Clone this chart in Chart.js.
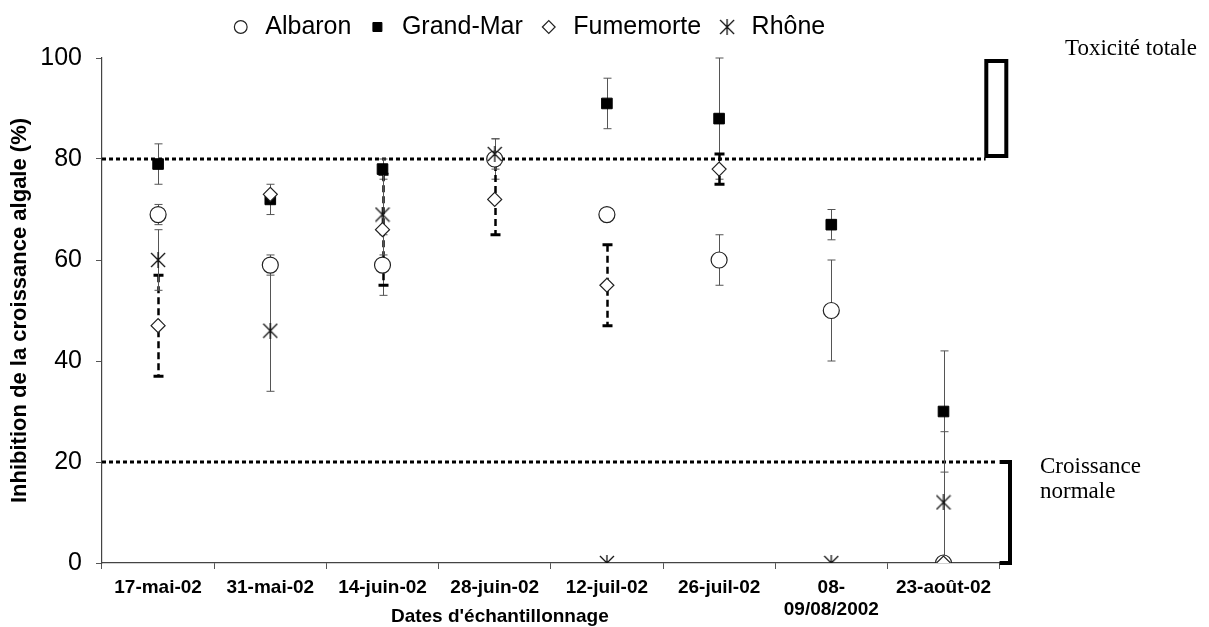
<!DOCTYPE html>
<html>
<head>
<meta charset="utf-8">
<script src="https://cdn.jsdelivr.net/npm/chart.js@4.4.1/dist/chart.umd.min.js"></script>
<style>
  html, body { margin: 0; padding: 0; background: #fff; }
</style>
</head>
<body>
<canvas id="chart" width="1209" height="627"></canvas>
<script>
const dates = ['17-mai-02', '31-mai-02', '14-juin-02', '28-juin-02', '12-juil-02', '26-juil-02', ['08-', '09/08/2002'], '23-août-02'];
const yTicks = [0, 20, 40, 60, 80, 100];

// mean inhibition (%) and error (+/-) per station
const albaron   = [69, 59, 59, 80, 69, 60, 50, 0];
const albaronSd = [2, 2, 6, 4, 0, 5, 10, 0];
const grandMar   = [79, 72, 78, null, 91, 88, 67, 30];
const grandMarSd = [4, 3, 2, null, 5, 12, 3, 12];
const fumemorte   = [47, 73, 66, 72, 55, 78, null, 0];
const fumemorteSd = [10, 0, 11, 7, 8, 3, null, 0];
const rhone   = [60, 46, 69, 81, 0, null, 0, 12];
const rhoneSd = [6, 12, 8, 3, 0, null, 0, 14];

const toxLimit = 80;
const normLimit = 20;

Chart.defaults.font.family = "'Liberation Sans', Arial, sans-serif";
Chart.defaults.color = '#000';

// X with a vertical stroke, like the Rhône marker
function starMarker(size) {
  const c = document.createElement('canvas');
  c.width = size;
  c.height = size;
  const g = c.getContext('2d');
  g.strokeStyle = '#111';
  g.lineWidth = 1.3;
  g.beginPath();
  g.moveTo(1, 1); g.lineTo(size - 1, size - 1);
  g.moveTo(size - 1, 1); g.lineTo(1, size - 1);
  g.moveTo(size / 2, 0); g.lineTo(size / 2, size);
  g.stroke();
  return c;
}
const rhoneMarker = starMarker(16);

// empty layout boxes to push the plot area where it sits in the figure
function spacer(position, size) {
  return {
    position: position, weight: 500, fullSize: position === 'top', options: {},
    left: 0, top: 0, right: 0, bottom: 0, width: 0, height: 0,
    isHorizontal() { return position === 'top'; },
    update(maxWidth, maxHeight) {
      if (position === 'top') { this.width = maxWidth; this.height = size; }
      else { this.width = size; this.height = maxHeight; }
    },
    draw() {}
  };
}
const spacers = {
  id: 'spacers',
  beforeInit(chart) {
    Chart.layouts.addBox(chart, spacer('top', 8.5));
    Chart.layouts.addBox(chart, spacer('right', 54.4));
  }
};

const limitLines = {
  id: 'limitLines',
  beforeDatasetsDraw(chart) {
    const {ctx, chartArea: a, scales: {y}} = chart;
    ctx.save();
    ctx.strokeStyle = '#000';
    ctx.lineWidth = 3;
    ctx.setLineDash([4, 3]);
    let py = y.getPixelForValue(toxLimit);
    ctx.beginPath();
    ctx.moveTo(a.left, py); ctx.lineTo(a.right - 14, py);
    py = y.getPixelForValue(normLimit);
    ctx.moveTo(a.left, py); ctx.lineTo(a.right - 2, py);
    ctx.stroke();
    ctx.restore();
  }
};

const errorBars = {
  id: 'errorBars',
  beforeDatasetsDraw(chart) {
    const {ctx, chartArea: a, scales: {y}} = chart;
    ctx.save();
    ctx.beginPath();
    ctx.rect(a.left, a.top - 3, a.right - a.left, a.bottom - a.top + 3);
    ctx.clip();
    chart.data.datasets.forEach((ds, i) => {
      const meta = chart.getDatasetMeta(i);
      const dashed = ds.label === 'Fumemorte';
      ds.data.forEach((v, j) => {
        const sd = ds.errors[j];
        if (v == null || !sd) return;
        const x = Math.round(meta.data[j].x) + 0.5;
        const top = y.getPixelForValue(v + sd);
        const bot = y.getPixelForValue(v - sd);
        const half = dashed ? 5 : 4;
        ctx.strokeStyle = dashed ? '#000' : '#555';
        ctx.lineWidth = dashed ? 2.5 : 1;
        ctx.setLineDash(dashed ? [7, 4] : []);
        ctx.beginPath();
        ctx.moveTo(x, top); ctx.lineTo(x, bot);
        ctx.stroke();
        ctx.setLineDash([]);
        ctx.lineWidth = dashed ? 3 : 1;
        ctx.beginPath();
        ctx.moveTo(x - half, top); ctx.lineTo(x + half, top);
        ctx.moveTo(x - half, bot); ctx.lineTo(x + half, bot);
        ctx.stroke();
      });
    });
    ctx.restore();
  }
};

const zones = {
  id: 'zones',
  afterDraw(chart) {
    const {ctx, chartArea: a, scales: {y}} = chart;
    ctx.save();
    ctx.strokeStyle = '#000';
    ctx.lineWidth = 4;
    const t1 = y.getPixelForValue(100), b1 = y.getPixelForValue(toxLimit);
    ctx.strokeRect(a.right - 13.3, t1 + 3, 20, b1 - t1 - 6);
    const t2 = y.getPixelForValue(normLimit), b2 = y.getPixelForValue(0);
    ctx.beginPath();
    ctx.moveTo(a.right, t2); ctx.lineTo(a.right + 10.4, t2);
    ctx.lineTo(a.right + 10.4, b2); ctx.lineTo(a.right, b2);
    ctx.stroke();
    ctx.fillStyle = '#000';
    ctx.font = "23px 'Liberation Serif', 'Times New Roman', serif";
    ctx.textBaseline = 'middle';
    ctx.fillText('Toxicité totale', a.right + 65.4, t1 - 9);
    ctx.fillText('Croissance', a.right + 40.4, t2 + 5);
    ctx.fillText('normale', a.right + 40.4, t2 + 30);
    // axis title, centred under axis + plot like the source figure
    ctx.font = "bold 19px 'Liberation Sans', Arial, sans-serif";
    ctx.textAlign = 'center';
    ctx.fillText("Dates d'échantillonnage", a.right / 2, 617);
    ctx.restore();
  }
};

const ctx = document.getElementById('chart');

new Chart(ctx, {
  type: 'line',
  data: {
    labels: dates,
    datasets: [{
      label: 'Albaron',
      data: albaron,
      errors: albaronSd,
      order: 3,
      showLine: false,
      pointStyle: 'circle',
      pointRadius: 8,
      pointBackgroundColor: '#fff',
      pointBorderColor: '#222',
      pointBorderWidth: 1.2
    }, {
      label: 'Grand-Mar',
      data: grandMar,
      errors: grandMarSd,
      order: 2,
      showLine: false,
      pointStyle: 'rect',
      pointRadius: 7.5,
      pointBackgroundColor: '#000',
      pointBorderColor: '#000',
      pointBorderWidth: 1
    }, {
      label: 'Fumemorte',
      data: fumemorte,
      errors: fumemorteSd,
      order: 0,
      showLine: false,
      pointStyle: 'rectRot',
      pointRadius: 7,
      pointBackgroundColor: '#fff',
      pointBorderColor: '#222',
      pointBorderWidth: 1.2
    }, {
      label: 'Rhône',
      data: rhone,
      errors: rhoneSd,
      order: 1,
      showLine: false,
      pointStyle: rhoneMarker,
      pointRadius: 8,
      pointBackgroundColor: '#fff',
      pointBorderColor: '#111'
    }]
  },
  options: {
    responsive: false,
    animation: false,
    events: [],
    layout: { padding: { top: 0.5, right: 155, bottom: 0, left: 0 } },
    plugins: {
      tooltip: { enabled: false },
      legend: {
        position: 'top',
        labels: {
          usePointStyle: true,
          boxWidth: 24,
          boxHeight: 9,
          padding: 14,
          color: '#000',
          font: { size: 25 },
          sort: (a, b) => a.datasetIndex - b.datasetIndex
        }
      }
    },
    scales: {
      x: {
        type: 'category',
        offset: true,
        afterFit: (scale) => { scale.height = 64; },
        grid: { offset: true, drawOnChartArea: false, drawTicks: true, tickLength: 6, color: '#555' },
        border: { color: '#444', width: 1.2 },
        ticks: {
          autoSkip: false,
          maxRotation: 0,
          padding: 8,
          color: '#000',
          font: { size: 19, weight: 'bold', lineHeight: 1.15 }
        }
      },
      y: {
        min: 0,
        max: 100,
        afterFit: (scale) => { scale.width = 102; },
        afterBuildTicks: (scale) => { scale.ticks = yTicks.map(v => ({ value: v })); },
        grid: { drawOnChartArea: false, drawTicks: true, tickLength: 6, color: '#555' },
        border: { color: '#444', width: 1.2 },
        ticks: {
          padding: 14,
          color: '#000',
          font: { size: 25 }
        },
        title: {
          display: true,
          text: 'Inhibition de la croissance algale (%)',
          color: '#000',
          font: { size: 22, weight: 'bold' },
          padding: { top: 7, bottom: 0 }
        }
      }
    }
  },
  plugins: [spacers, limitLines, errorBars, zones]
});
</script>
</body>
</html>
